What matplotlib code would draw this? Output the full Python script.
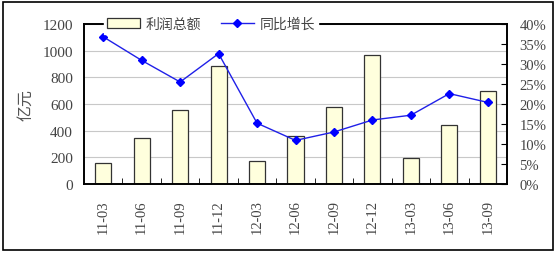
import matplotlib
matplotlib.use("Agg")
import matplotlib.pyplot as plt
from matplotlib.patches import Rectangle
from matplotlib.ticker import FuncFormatter, MultipleLocator

plt.rcParams['font.family'] = ['Liberation Serif', 'Noto Sans CJK SC', 'DejaVu Sans']

categories = ["11-03", "11-06", "11-09", "11-12", "12-03", "12-06",
              "12-09", "12-12", "13-03", "13-06", "13-09"]
profit = [160, 348, 552, 888, 169, 363, 580, 965, 194, 442, 699]
growth = [36.8, 30.9, 25.5, 32.6, 15.2, 10.9, 13.0, 16.0, 17.2, 22.6, 20.4]

W, H = 557, 255
fig = plt.figure(figsize=(W / 100, H / 100), dpi=100)
fig.patch.set_facecolor('white')
fig.add_artist(Rectangle((3 / W, 1 - 251 / H), 550 / W, 248 / H,
                         transform=fig.transFigure, fill=False,
                         edgecolor='black', linewidth=1.2))

ax = fig.add_axes([84 / W, 1 - 185 / H, (507 - 84) / W, (185 - 25) / H])
x = list(range(len(categories)))
bars = ax.bar(x, profit, width=0.42, color='#FFFFDD', edgecolor='#333333',
              linewidth=0.9, zorder=2, label='利润总额')
ax.set_ylim(0, 1200)
ax.set_xlim(-0.5, len(categories) - 0.5)
ax.yaxis.set_major_locator(MultipleLocator(200))
ax.grid(axis='y', color='#C8C8C8', linewidth=0.8, zorder=0)
ax.set_axisbelow(True)
ax.set_xticks(x)
ax.set_xticklabels(categories, rotation=90, fontsize=10.5, color='#444444')
ax.set_xticks([i + 0.5 for i in x[:-1]], minor=True)
ax.tick_params(axis='x', which='major', length=0, pad=11)
ax.tick_params(axis='x', which='minor', direction='in', length=4, color='black')
ax.tick_params(axis='y', length=0, labelsize=11, colors='#444444', pad=8)
for s in ['left', 'bottom', 'right', 'top']:
    ax.spines[s].set_color('black')
    ax.spines[s].set_linewidth(1.2)
ax.set_ylabel('亿元', fontsize=11.5, color='#555555', family=['Noto Sans CJK SC'],
              labelpad=6)

ax2 = ax.twinx()
line, = ax2.plot(x, growth, color='#2020E8', linewidth=1.0, marker='D',
                 markersize=4.5, markerfacecolor='#0000FF',
                 markeredgecolor='#0000FF', label='同比增长', zorder=3)
ax2.set_ylim(0, 40)
ax2.yaxis.set_major_locator(MultipleLocator(5))
ax2.yaxis.set_major_formatter(FuncFormatter(lambda v, p: f"{v:.0f}%"))
ax2.tick_params(axis='y', direction='in', length=4, labelsize=10.5,
                colors='#444444', pad=9)
ax2.tick_params(axis='y', color='black')
for s in ['left', 'bottom', 'right', 'top']:
    ax2.spines[s].set_color('black')
    ax2.spines[s].set_linewidth(1.2)

leg = ax2.legend([bars, line], ['利润总额', '同比增长'], loc='center',
                 bbox_to_anchor=(0.30, 1.0), ncol=2, frameon=True,
                 fancybox=False, framealpha=1, edgecolor='white',
                 prop={'family': ['Noto Sans CJK SC'], 'size': 10},
                 handlelength=2.4, columnspacing=1.4, borderpad=0.2,
                 handletextpad=0.4)
for t in leg.get_texts():
    t.set_color('#444444')

fig.savefig('out.png', dpi=100)
